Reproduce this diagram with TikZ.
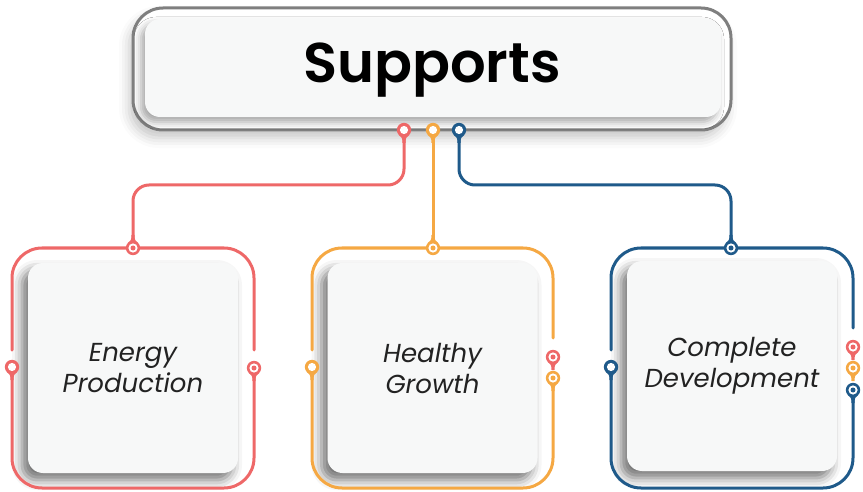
\documentclass[tikz,border=0pt]{standalone}
\usepackage{fontspec}
\setmainfont{Poppins}
\newfontfamily\titlefont{Poppins SemiBold}
\usetikzlibrary{shadows.blur}
\definecolor{cred}{HTML}{EE6868}
\definecolor{corange}{HTML}{F5A843}
\definecolor{cblue}{HTML}{1F5A8A}
\definecolor{cgray}{HTML}{7F7F7F}
\definecolor{cardfill}{HTML}{F7F8F8}
\definecolor{txt}{HTML}{222222}
\tikzset{
  conn/.style={line width=3pt, line cap=round},
  card/.style={draw=none, fill=cardfill, rounded corners=15pt, minimum width=210pt, minimum height=210pt,
    align=center, text=txt, font=\fontsize{26}{31}\selectfont\itshape,
    blur shadow={shadow xshift=-6pt, shadow yshift=-7pt, shadow blur radius=10pt, shadow opacity=55}},
}
% #1 name, #2 position, #3 colour, #4 tail direction (1 down, -1 up), #5 target (1) or ring (0)
\newcommand\dropmark[5]{%
  \coordinate (#1) at (#2);
  \begin{scope}[shift={(#1)}, yscale=#4]
    \fill[#3] (0,0) circle (7.2);
    \fill[#3] (-5.1,5.1) .. controls (-1.7,8) .. (-1.5,13) -- (1.5,13) .. controls (1.7,8) .. (5.1,5.1) -- cycle;
    \ifnum#5=1
      \fill[white] (0,0) circle (4.6);
      \fill[#3] (0,0) circle (2.5);
    \else
      \fill[white] (0,0) circle (4.1);
    \fi
  \end{scope}}
\begin{document}
\begin{tikzpicture}[x=1pt, y=-1pt]
\useasboundingbox (0,0) rectangle (863,492);
% top box
\node[draw=cgray, line width=3pt, fill=white, rounded corners=30pt, minimum width=598pt, minimum height=122pt,
  blur shadow={shadow xshift=-4pt, shadow yshift=-8pt, shadow blur radius=10pt, shadow opacity=22}] (top) at (432,69) {};
\node[fill=cardfill, rounded corners=15pt, minimum width=576pt, minimum height=98pt,
  blur shadow={shadow xshift=-4pt, shadow yshift=-5pt, shadow blur radius=7pt, shadow opacity=35}] (topin) at (433,68) {};
\node[anchor=base, font=\fontsize{56}{60}\selectfont\titlefont] (title) at (432,83) {Supports};

% cards
\node[card] (e) at (133,368) {Energy\\Production};
\node[card] (g) at (432.5,368) {Healthy\\Growth};
\node[card] (c) at (732,366) {Complete\\Development};

% pin coordinates
\coordinate (s1) at (404,130); \coordinate (s2) at (433,130); \coordinate (s3) at (459,130);
\coordinate (e1) at (133,248); \coordinate (g1) at (433,248); \coordinate (c1) at (731,248);
\coordinate (eL) at (12,367); \coordinate (eR) at (254,368);
\coordinate (gL) at (312,367); \coordinate (gR1) at (553,357); \coordinate (gR2) at (553,378);
\coordinate (cL) at (611,367); \coordinate (cR1) at (853,347); \coordinate (cR2) at (853,368); \coordinate (cR3) at (853,390);

% connectors
\draw[cred, conn, rounded corners=16pt] (s1) -- ++(0,55) -| (e1);
\draw[corange, conn] (s2) -- (g1);
\draw[cblue, conn, rounded corners=16pt] (s3) -- ++(0,55) -| (c1);

% frames
\draw[cred, conn, rounded corners=30pt] (12,350) -- (12,248) -- (254,248) -- (254,350);
\draw[cred, conn, rounded corners=30pt] (eL) -- (12,488) -- (254,488) -- (eR);
\draw[corange, conn, rounded corners=30pt] (312,350) -- (312,248) -- (553,248) -- (553,338);
\draw[corange, conn, rounded corners=30pt] (gL) -- (312,488) -- (553,488) -- (gR2);
\draw[cblue, conn, rounded corners=30pt] (611,350) -- (611,248) -- (853,248) -- (853,328);
\draw[cblue, conn, rounded corners=30pt] (cL) -- (611,488) -- (853,488) -- (cR3);

% pins
\dropmark{s1}{404,130}{cred}{1}{0}
\dropmark{s2}{433,130}{corange}{1}{0}
\dropmark{s3}{459,130}{cblue}{1}{0}
\dropmark{e1}{133,248}{cred}{-1}{1}
\dropmark{g1}{433,248}{corange}{-1}{1}
\dropmark{c1}{731,248}{cblue}{-1}{1}
\dropmark{eL}{12,367}{cred}{1}{0}
\dropmark{eR}{254,368}{cred}{1}{1}
\dropmark{gL}{312,367}{corange}{1}{0}
\dropmark{gR1}{553,357}{cred}{1}{1}
\dropmark{gR2}{553,378}{corange}{1}{1}
\dropmark{cL}{611,367}{cblue}{1}{0}
\dropmark{cR1}{853,347}{cred}{1}{1}
\dropmark{cR2}{853,368}{corange}{1}{1}
\dropmark{cR3}{853,390}{cblue}{1}{1}
\end{tikzpicture}
\end{document}
